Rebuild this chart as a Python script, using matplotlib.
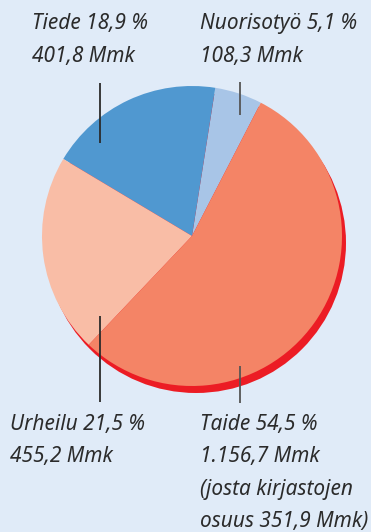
import matplotlib
matplotlib.use("Agg")
import matplotlib.pyplot as plt
from matplotlib.patches import Circle

# Budget shares (%), counter-clockwise from the Nuorisotyö edge
names = ["Nuorisotyö", "Tiede", "Urheilu", "Taide"]
shares = [5.1, 18.9, 21.5, 54.5]
amounts = ["108,3", "401,8", "455,2", "1.156,7"]
colors = ["#a8c5e7", "#5098d0", "#f9bda6", "#f48466"]

BG = "#e0ebf8"
SHADOW = "#ec1c24"
INK = "#2b2b2b"

W, H = 371, 532
fig = plt.figure(figsize=(W / 100, H / 100), dpi=100, facecolor=BG)
ax = fig.add_axes([0, 0, 1, 1])
ax.set_facecolor(BG)

cx, cy, r = 192, H - 236, 150

# red rim under the disc
ax.add_patch(Circle((cx + 4, cy - 7), r, facecolor=SHADOW, edgecolor="none", zorder=0.5))
ax.pie(shares, colors=colors, startangle=62.7, counterclock=True,
       center=(cx, cy), radius=r, frame=True,
       wedgeprops=dict(linewidth=0, antialiased=True))

ax.set_xlim(0, W)
ax.set_ylim(0, H)
ax.set_aspect("equal")
ax.axis("off")

# leader lines (x, y_top, y_bottom) in image pixels
leaders = [(100, 83, 143, INK), (240, 82, 115, "#555555"),
           (100, 316, 402, INK), (240, 366, 403, "#555555")]
for x, y0, y1, c in leaders:
    ax.plot([x, x], [H - y0, H - y1], color=c, lw=1.3, solid_capstyle="butt", zorder=3)

font = dict(family="Noto Sans", style="italic", fontsize=15, color=INK, va="baseline")

labels = [
    (32, [29, 62], [f"{names[1]} {shares[1]:.1f} %".replace(".", ","), f"{amounts[1]} Mmk"]),
    (200, [29, 62], [f"{names[0]} {shares[0]:.1f} %".replace(".", ","), f"{amounts[0]} Mmk"]),
    (10, [430, 462], [f"{names[2]} {shares[2]:.1f} %".replace(".", ","), f"{amounts[2]} Mmk"]),
    (200, [430, 462, 495, 527], [f"{names[3]} {shares[3]:.1f} %".replace(".", ","),
                                 f"{amounts[3]} Mmk", "(josta kirjastojen", "osuus 351,9 Mmk)"]),
]
for x, ys, lines in labels:
    for y, t in zip(ys, lines):
        ax.text(x, H - y, t, **font)

fig.savefig("out.png", dpi=100, facecolor=BG)
